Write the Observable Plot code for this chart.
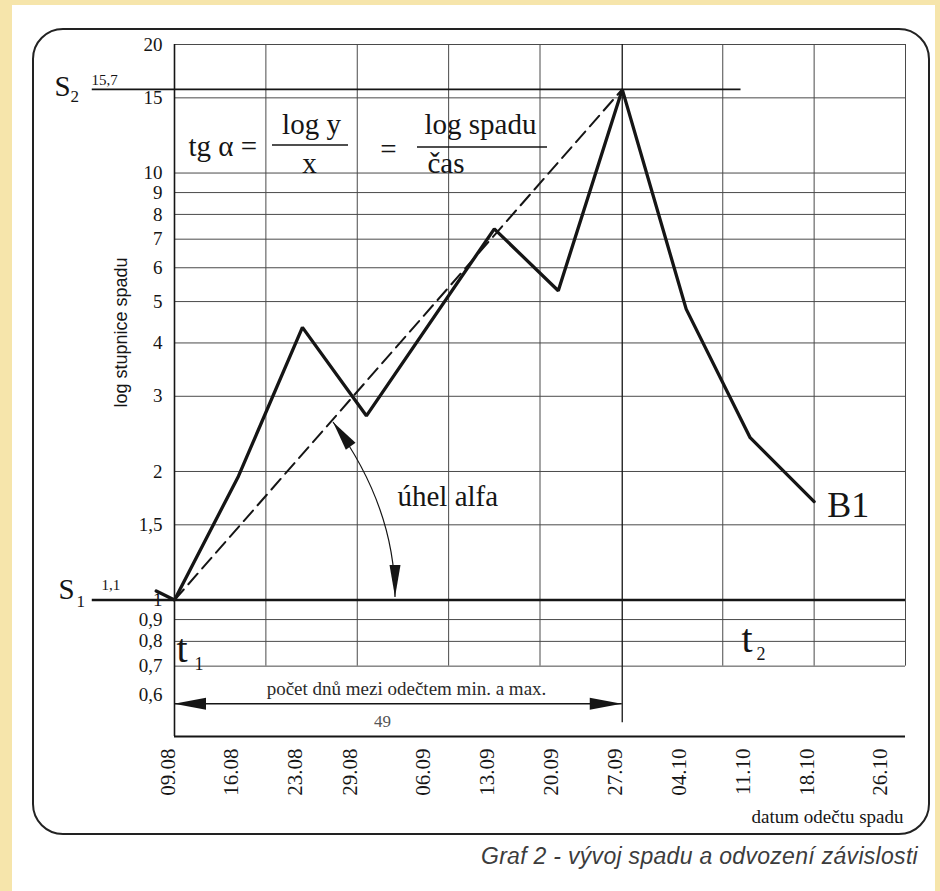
<!DOCTYPE html>
<html><head><meta charset="utf-8">
<script src="https://cdn.jsdelivr.net/npm/d3@7"></script>
<script src="https://cdn.jsdelivr.net/npm/@observablehq/plot@0.6"></script>
<style>
html,body{margin:0;padding:0;}
body{width:940px;height:891px;background:#f6e5ab;position:relative;overflow:hidden;}
#paper{position:absolute;left:12px;top:5px;width:923px;height:886px;background:#fff;}
#chart{position:absolute;left:0;top:0;}
#caption{position:absolute;left:0;top:842px;width:918px;text-align:right;font:italic 23px "Liberation Sans",Arial,sans-serif;color:#3c3c3c;line-height:28px;letter-spacing:0.3px;}
</style></head>
<body>
<div id="paper"></div>
<div id="chart"></div>
<div id="caption">Graf 2 - vývoj spadu a odvození závislosti</div>
<script>
// ---- data ----
const readDates  = ["2010-08-07","2010-08-09","2010-08-16","2010-08-23","2010-08-30","2010-09-13","2010-09-20","2010-09-27","2010-10-04","2010-10-11","2010-10-18"];
const readValues = [1.05, 1.0, 1.95, 4.35, 2.7, 7.4, 5.3, 15.7, 4.8, 2.4, 1.7];
const trendDates  = ["2010-08-09","2010-09-27"];
const trendValues = [1.0, 15.7];
const xTickLabels = ["09.08","16.08","23.08","29.08","06.09","13.09","20.09","27.09","04.10","11.10","18.10","26.10"];
const yTickLabels = ["20","15","10","9","8","7","6","5","4","3","2","1,5","1","0,9","0,8","0,7","0,6"];
const yGridValues = [20,15,10,9,8,7,6,5,4,3,2,1.5,0.9,0.8,0.7];
const xGridDates  = ["2010-08-09","2010-08-19","2010-08-29","2010-09-08","2010-09-18","2010-10-08","2010-10-18","2010-10-28"];
const s1Value = 1.1, s2Value = 15.7, s1LineLevel = 1.0;
const arrowLevel = 0.57;
const seriesName = "B1";

// ---- helpers ----
const parse = s => new Date(s + "T00:00:00Z");
const labelDate = l => { const [d, m] = l.split("."); return new Date(Date.UTC(2010, +m - 1, +d)); };
const dec = s => +s.replace(",", ".");
const fmt = v => String(v).replace(".", ",");
const series = readDates.map((d, i) => ({date: parse(d), value: readValues[i]}));
const trend = trendDates.map((d, i) => ({date: parse(d), value: trendValues[i]}));
const tMin = parse(trendDates[0]), tMax = parse(trendDates[1]);
const nDays = d3.utcDay.count(tMin, tMax);
const xStart = parse("2010-08-09"), xEnd = parse("2010-10-28");
const leftOut = parse("2010-07-31");

const W = 940, H = 840, ML = 174, MR = 35, MT = 44, MB = 104;
const serif = '"Liberation Serif","Times New Roman",serif';
const sans = '"Liberation Sans",Arial,sans-serif';
const ink = "#151515", gridc = "#4a4a4a";

function ann(text, px, py, o = {}) {
  return Plot.text([text], {text: d => d, frameAnchor: "top-left", dx: px - ML, dy: py - MT,
    fontFamily: serif, fill: ink, textAnchor: "start", lineAnchor: "middle", ...o});
}
function tri(tx, ty, ux, uy, len, hw) {
  const n = Math.hypot(ux, uy); ux /= n; uy /= n;
  const bx = tx - ux * len, by = ty - uy * len;
  return `M${tx},${ty}L${bx - uy * hw},${by + ux * hw}L${bx + uy * hw},${by - ux * hw}Z`;
}
function decor(index, scales) {
  const {x, y} = scales;
  const g = d3.create("svg:g");
  g.append("rect").attr("x", 33).attr("y", 29).attr("width", 896).attr("height", 805)
    .attr("rx", 30).attr("fill", "none").attr("stroke", "#222").attr("stroke-width", 2);
  // fraction bars
  g.append("line").attr("x1", 272).attr("x2", 348).attr("y1", 145).attr("y2", 145).attr("stroke", ink).attr("stroke-width", 1.5);
  g.append("line").attr("x1", 417).attr("x2", 547).attr("y1", 147).attr("y2", 147).attr("stroke", ink).attr("stroke-width", 1.5);
  // double arrow: days between min and max
  const ya = y(arrowLevel), xa = x(tMin), xb = x(tMax);
  g.append("line").attr("x1", xa).attr("x2", xb).attr("y1", ya).attr("y2", ya).attr("stroke", ink).attr("stroke-width", 1.5);
  g.append("path").attr("d", tri(xa, ya, -1, 0, 32, 6)).attr("fill", ink);
  g.append("path").attr("d", tri(xb, ya, 1, 0, 32, 6)).attr("fill", ink);
  // angle alpha arc
  g.append("path").attr("d", "M333,422Q395,507 395,597").attr("fill", "none").attr("stroke", ink).attr("stroke-width", 1.2);
  g.append("path").attr("d", tri(333, 422, -62, -85, 30, 6)).attr("fill", ink);
  g.append("path").attr("d", tri(395, 597, 0, 1, 32, 5.5)).attr("fill", ink);
  return g.node();
}

const chart = Plot.plot({
  width: W, height: H, marginLeft: ML, marginRight: MR, marginTop: MT, marginBottom: MB,
  style: {background: "transparent", overflow: "visible"},
  x: {type: "utc", domain: [xStart, xEnd], axis: null},
  y: {type: "log", domain: [0.479, 20], axis: null},
  marks: [
    Plot.ruleY(yGridValues, {stroke: gridc, strokeWidth: 1}),
    Plot.ruleX(xGridDates, {x: parse, y1: 0.7, y2: 20, stroke: gridc, strokeWidth: 1}),
    Plot.ruleX([tMax], {y1: 0.516, y2: 20, stroke: ink, strokeWidth: 1.3}),
    Plot.ruleX([xStart], {stroke: ink, strokeWidth: 1.6}),
    Plot.ruleY([0.479], {stroke: ink, strokeWidth: 2}),
    Plot.ruleY([s2Value], {x1: () => leftOut, x2: () => parse("2010-10-10"), stroke: ink, strokeWidth: 1.8}),
    Plot.ruleY([s1LineLevel], {x1: () => leftOut, x2: () => xEnd, stroke: ink, strokeWidth: 2.6}),
    Plot.line(trend, {x: "date", y: "value", stroke: ink, strokeWidth: 2, strokeDasharray: "14,7"}),
    Plot.line(series, {x: "date", y: "value", stroke: ink, strokeWidth: 3.3, strokeLinejoin: "miter"}),
    decor,
    // axis labels
    Plot.text(yTickLabels, {x: () => xStart, y: dec, text: d => d, dx: -12, textAnchor: "end",
      fontSize: 19, fontFamily: serif, fill: ink}),
    Plot.text(xTickLabels, {x: labelDate, text: d => d, frameAnchor: "bottom", dy: 12, rotate: -90,
      textAnchor: "end", fontSize: 21, fontFamily: serif, fill: ink}),
    ann("log stupnice spadu", 121, 332, {rotate: -90, textAnchor: "middle", fontFamily: sans, fontSize: 18}),
    ann("datum odečtu spadu", 903, 816, {textAnchor: "end", fontSize: 19}),
    // S labels
    ann("S", 54, 86, {fontSize: 29}),
    ann("2", 70, 96, {fontSize: 17}),
    ann(fmt(s2Value), 91, 80, {fontSize: 15}),
    ann("S", 58, 589, {fontSize: 29}),
    ann("1", 76, 601, {fontSize: 17}),
    ann(fmt(s1Value), 101, 585, {fontSize: 15}),
    // formula
    ann("tg α =", 188, 146, {fontSize: 29}),
    ann("log y", 311, 124, {textAnchor: "middle", fontSize: 29}),
    ann("x", 309, 163, {textAnchor: "middle", fontSize: 29}),
    ann("=", 388, 149, {textAnchor: "middle", fontSize: 29}),
    ann("log spadu", 424, 124, {fontSize: 29}),
    ann("čas", 427, 163, {fontSize: 29}),
    ann("úhel alfa", 397, 496, {fontSize: 29}),
    // t labels
    ann("t", 176, 649, {fontSize: 40}),
    ann("1", 194, 664, {fontSize: 18}),
    ann("t", 741, 639, {fontSize: 40}),
    ann("2", 756, 654, {fontSize: 18}),
    ann("počet dnů mezi odečtem min. a max.", 406, 688, {textAnchor: "middle", fontSize: 19, fill: "#2a2a2a"}),
    ann(String(nDays), 382, 721, {textAnchor: "middle", fontSize: 17, fill: "#555"}),
    Plot.text([series[series.length - 1]], {x: "date", y: "value", text: () => seriesName, dx: 13, dy: 4,
      textAnchor: "start", fontSize: 36, fontFamily: serif, fill: ink})
  ]
});
document.getElementById("chart").appendChild(chart);
</script>
</body></html>
